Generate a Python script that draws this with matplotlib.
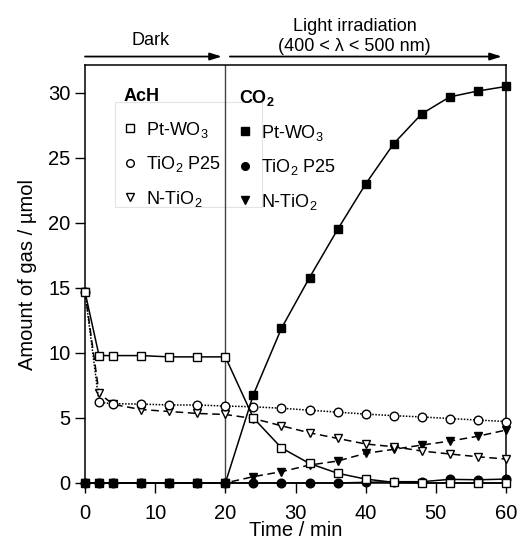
import matplotlib
matplotlib.use('Agg')
import matplotlib.pyplot as plt
from matplotlib.lines import Line2D
from matplotlib.patches import Rectangle

plt.rcParams['font.family'] = ['Liberation Sans', 'DejaVu Sans']
plt.rcParams['mathtext.fontset'] = 'custom'
plt.rcParams['mathtext.rm'] = 'Liberation Sans'
plt.rcParams['mathtext.it'] = 'Liberation Sans:italic'
plt.rcParams['mathtext.bf'] = 'Liberation Sans:bold'

# sampling times (min)
time = [0, 2, 4, 8, 12, 16, 20, 24, 28, 32, 36, 40, 44, 48, 52, 56, 60]

# acetaldehyde (AcH) remaining, umol
ach_pt_wo3 = [14.7, 9.8, 9.8, 9.8, 9.7, 9.7, 9.7, 5.0, 2.7, 1.5, 0.75, 0.3, 0.05, 0.0, 0.0, 0.0, 0.0]
ach_p25 = [14.7, 6.2, 6.1, 6.07, 6.0, 6.0, 5.92, 5.86, 5.75, 5.6, 5.45, 5.3, 5.18, 5.08, 4.96, 4.84, 4.73]
ach_n_tio2 = [14.7, 6.9, 6.05, 5.65, 5.5, 5.35, 5.27, 4.96, 4.4, 3.86, 3.43, 3.0, 2.79, 2.46, 2.23, 2.02, 1.84]

# CO2 evolved, umol
co2_pt_wo3 = [0, 0, 0, 0, 0, 0, 0, 6.8, 11.9, 15.8, 19.5, 23.0, 26.1, 28.4, 29.7, 30.15, 30.5]
co2_p25 = [0, 0, 0, 0, 0, 0, 0, 0, 0, 0, 0, 0.05, 0.1, 0.1, 0.28, 0.25, 0.3]
co2_n_tio2 = [0, 0, 0, 0, 0, 0, 0, 0.49, 0.87, 1.38, 1.69, 2.28, 2.59, 2.92, 3.22, 3.6, 4.07]

labels = ['Pt-WO$_3$', 'TiO$_2$ P25', 'N-TiO$_2$']

fig = plt.figure(figsize=(5.19, 5.41), dpi=100)
ax = fig.add_axes([85 / 519, 1 - 483 / 541, 421 / 519, 418 / 541])

ms = 6.2
lw = 1.1
dash = (0, (5, 3))
dot = (0, (1, 1))

common = dict(color='k', lw=lw, ms=ms, mew=1.0, clip_on=False)
ax.plot(time, co2_p25, '-', marker='o', mfc='k', zorder=3, **common)
ax.plot(time, co2_n_tio2, linestyle=dash, marker='v', mfc='k', zorder=3, **common)
ax.plot(time, co2_pt_wo3, '-', marker='s', mfc='k', zorder=4, **common)
ax.plot(time, ach_n_tio2, linestyle=dash, marker='v', mfc='white', zorder=3, **common)
ax.plot(time, ach_p25, linestyle=dot, marker='o', mfc='white', zorder=3, **common)
ax.plot(time, ach_pt_wo3, '-', marker='s', mfc='white', zorder=4, **common)

ax.axvline(20, color='#444444', lw=1.0, zorder=1)

ax.set_xlim(0, 60)
ax.set_ylim(0, 32.15)
ax.set_xticks(range(0, 61, 10))
ax.set_yticks(range(0, 31, 5))
ax.tick_params(axis='both', direction='out', length=7, width=1.0, labelsize=14.5,
               top=False, right=False)
ax.tick_params(axis='x', pad=8)
for s in ax.spines.values():
    s.set_linewidth(1.1)

ax.set_xlabel('Time / min', fontsize=14.5, labelpad=-1)
ax.set_ylabel('Amount of gas / \u00b5mol', fontsize=14.5, labelpad=8)

# phase arrows above the plot
arrow = dict(arrowstyle='-|>,head_length=0.7,head_width=0.22', color='k', lw=1.3,
             shrinkA=0, shrinkB=0)
ax.annotate('', xy=(19.5, 32.8), xytext=(0, 32.8), arrowprops=arrow,
            annotation_clip=False)
ax.annotate('', xy=(59.4, 32.8), xytext=(20.65, 32.8), arrowprops=arrow,
            annotation_clip=False)
ax.text(9.3, 34.0, 'Dark', ha='center', va='center', fontsize=13, clip_on=False)
ax.text(38.4, 34.35, 'Light irradiation\n(400 < \u03bb < 500 nm)', ha='center',
        va='center', fontsize=13, linespacing=1.25, clip_on=False)

# faint frame behind the AcH legend
ax.add_patch(Rectangle((0.071, 0.660), 0.349, 0.251, transform=ax.transAxes,
                       fill=False, ec='#e4e4e4', lw=0.8, zorder=0))

def make_handles(fill):
    return [Line2D([], [], color='k', marker=m, ls='none', mfc=fill, ms=5.5, mew=1.0)
            for m in ['s', 'o', 'v']]

leg_kw = dict(frameon=False, fontsize=13, loc='upper left', borderpad=0,
              handlelength=0.65, handletextpad=0.6, labelspacing=0.8,
              alignment='left', title_fontproperties={'weight': 'bold', 'size': 13})
leg1 = ax.legend(make_handles('white'), labels, title='AcH',
                 bbox_to_anchor=(0.071, 0.966), **leg_kw)
ax.add_artist(leg1)
ax.legend(make_handles('k'), labels, title='CO$_\\mathbf{2}$',
          bbox_to_anchor=(0.344, 0.966), **leg_kw)

fig.savefig('out.png', dpi=100)
